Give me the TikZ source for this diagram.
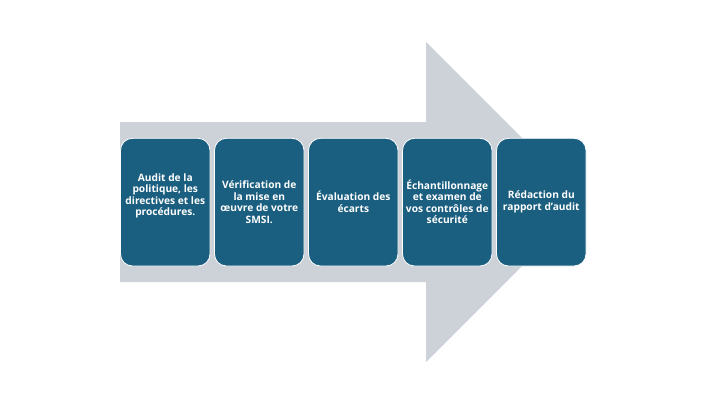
\documentclass[tikz,border=0pt]{standalone}
\usepackage{fontspec}
\setmainfont{Open Sans}
\definecolor{arrowgrey}{HTML}{CDD2D9}
\definecolor{boxblue}{HTML}{1A5E80}
\begin{document}
\begin{tikzpicture}[x=1pt,y=-1pt,
  stepbox/.style={draw=white, line width=0.8pt, fill=boxblue, rounded corners=12pt},
  steptext/.style={text=white, align=center, font=\fontsize{10.2}{11.5}\selectfont\bfseries, inner sep=0pt}]
\useasboundingbox (0,0) rectangle (720,405);
\fill[white] (0,0) rectangle (720,405);
\fill[arrowgrey] (120,122) -- (426,122) -- (426,42) -- (586,202) -- (426,362) -- (426,282) -- (120,282) -- cycle;
\foreach \i in {0,...,4} {
  \draw[stepbox] ({120.5+94*\i},138.3) rectangle ({210+94*\i},266);
}
\node[steptext] (s1) at (165.3,196) {Audit de la\\politique, les\\directives et les\\procédures.};
\node[steptext] (s2) at (259.3,202) {Vérification de\\la mise en\\œuvre de votre\\SMSI.};
\node[steptext] (s3) at (353.3,202) {Évaluation des\\écarts};
\node[steptext] (s4) at (447.3,202) {Échantillonnage\\et examen de\\vos contrôles de\\sécurité};
\node[steptext] (s5) at (541.3,202) {Rédaction du\\rapport d'audit};
\end{tikzpicture}
\end{document}
